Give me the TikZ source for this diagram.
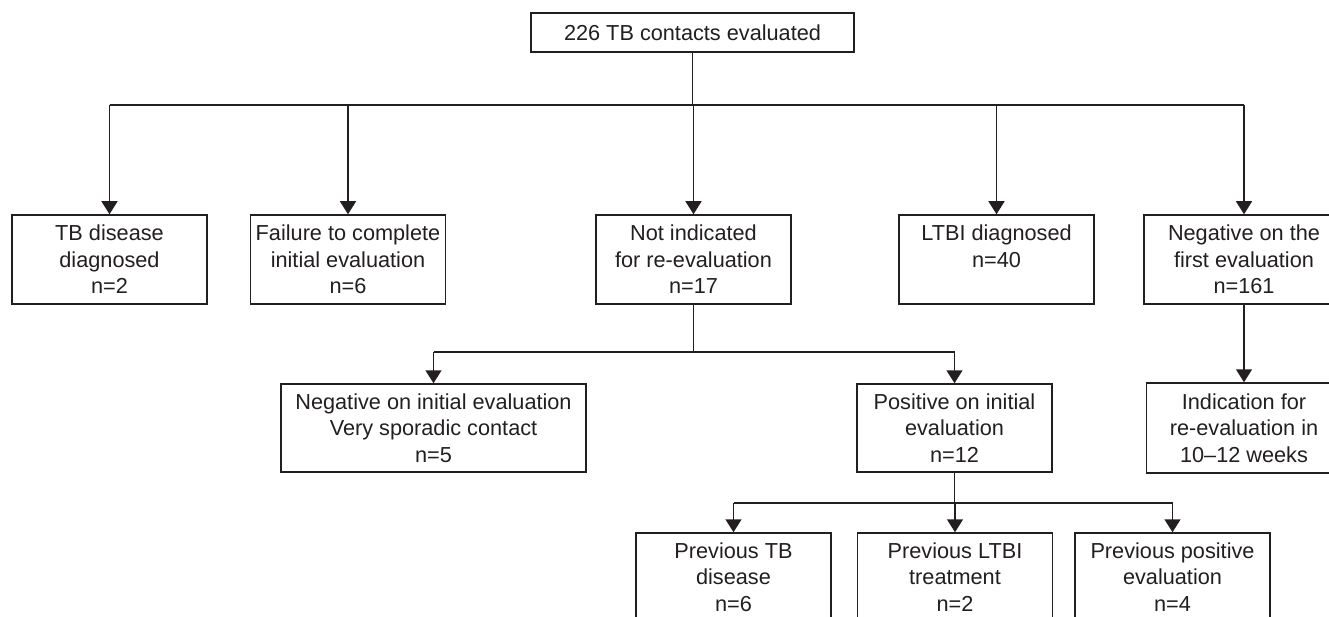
\documentclass[tikz,border=0pt]{standalone}
\usepackage{fontspec}
\setmainfont{Liberation Sans}
\usetikzlibrary{arrows.meta}
\definecolor{ink}{HTML}{231F20}
\tikzset{
  box/.style={draw=ink, line width=1.5pt, text=ink, align=center, inner sep=0pt,
    minimum width=195pt, minimum height=89pt,
    font=\fontsize{21.7}{26.5}\selectfont},
  conn/.style={draw=ink, line width=1.5pt},
  arr/.style={conn, -{Triangle[width=16pt,length=13pt]}},
}
\begin{document}
\begin{tikzpicture}[x=1pt,y=-1pt]
\clip (0,0) rectangle (1329,617);
\fill[white] (0,0) rectangle (1329,617);

\node[box, minimum width=323pt, minimum height=39pt] (top) at (692.5,32.5) {226 TB contacts evaluated};

\node[box] (tb)   at (109.5,259.5) {TB disease\\ diagnosed\\ n=2};
\node[box] (fail) at (348,259.5) {Failure to complete\\ initial evaluation\\ n=6};
\node[box] (noti) at (693.5,259.5) {Not indicated\\ for re-evaluation\\ n=17};
\node[box] (ltbi) at (996.5,259.5) {LTBI diagnosed\\ n=40\\ \mbox{}};
\node[box, minimum width=200pt] (neg1) at (1244,259.5) {Negative on the\\ first evaluation\\ n=161};

\node[box, minimum width=305pt, minimum height=88pt] (negi) at (433.5,428) {Negative on initial evaluation\\ Very sporadic contact\\ n=5};
\node[box, minimum height=88pt] (posi) at (954.5,428) {Positive on initial\\ evaluation\\ n=12};
\node[box, minimum width=195pt, minimum height=90pt] (indi) at (1244,428) {Indication for\\ re-evaluation in\\ 10--12 weeks};

\node[box, minimum height=88pt] (ptb)  at (733.5,577) {Previous TB\\ disease\\ n=6};
\node[box, minimum height=88pt] (pltbi) at (955,577) {Previous LTBI\\ treatment\\ n=2};
\node[box, minimum height=88pt] (ppos) at (1172.5,577) {Previous positive\\ evaluation\\ n=4};

% level 1 bar
\coordinate (b1) at (692.5,105);
\draw[conn] (top.south) -- (b1);
\draw[conn] (tb.north |- b1) -- (neg1.north |- b1);
\foreach \n in {tb,fail,noti,ltbi,neg1}{
  \draw[arr] (\n.north |- b1) -- (\n.north);
}
% level 2 bar
\coordinate (b2) at (693.5,352);
\draw[conn] (noti.south) -- (b2);
\draw[conn] (negi.north |- b2) -- (posi.north |- b2);
\foreach \n in {negi,posi}{
  \draw[arr] (\n.north |- b2) -- (\n.north);
}
\draw[arr] (neg1.south) -- (indi.north);
% level 3 bar
\coordinate (b3) at (954.5,503);
\draw[conn] (posi.south) -- (b3);
\draw[conn] (ptb.north |- b3) -- (ppos.north |- b3);
\foreach \n in {ptb,pltbi,ppos}{
  \draw[arr] (\n.north |- b3) -- (\n.north);
}
\end{tikzpicture}
\end{document}
